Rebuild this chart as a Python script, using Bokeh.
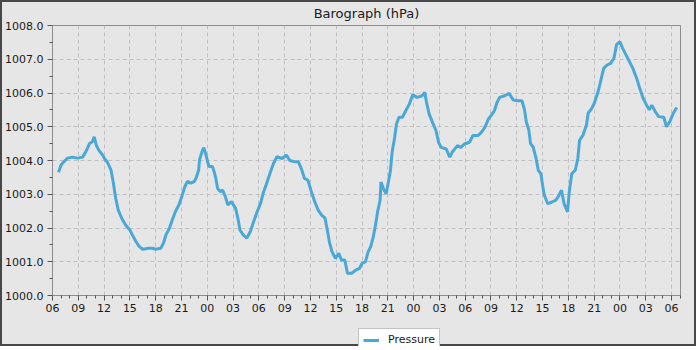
from bokeh.plotting import figure
from bokeh.layouts import column
from bokeh.models import FixedTicker, Legend, LegendItem, ColumnDataSource, Range1d
from bokeh.embed import file_html
from bokeh.resources import INLINE

# hours since 06:00 of the first day
hours = [0.7, 1.0, 1.35, 1.75, 2.3, 2.9, 3.5, 3.9, 4.3, 4.65, 4.85, 5.1, 5.4, 5.8, 6.1, 6.4, 6.8,
         7.05, 7.35, 7.65, 8.05, 8.5, 9.0, 9.3, 9.7, 10.1, 10.5, 11.2, 11.6, 12.0, 12.6, 12.9,
         13.2, 13.6, 14.0, 14.3, 14.7, 15.1, 15.4, 15.7, 16.1, 16.5, 16.7, 17.0, 17.1, 17.4,
         17.6, 17.9, 18.0, 18.2, 18.6, 18.8, 19.0, 19.2, 19.5, 19.8, 20.1, 20.4, 20.8, 21.3,
         21.6, 21.8, 22.2, 22.6, 23.0, 23.4, 23.8, 24.2, 24.5, 24.9, 25.3, 25.7, 26.1, 26.7,
         27.2, 27.6, 28.2, 28.6, 29.0, 29.3, 29.7, 30.1, 30.5, 30.9, 31.3, 31.7, 32.0, 32.2,
         32.5, 32.9, 33.3, 33.6, 34.0, 34.3, 34.8, 35.3, 35.7, 36.0, 36.4, 36.7, 37.0, 37.3,
         37.6, 37.8, 38.1, 38.2, 38.5, 38.8, 39.1, 39.3, 39.5, 39.8, 40.0, 40.3, 40.7, 41.1,
         41.5, 41.9, 42.4, 43.0, 43.3, 43.5, 43.8, 44.2, 44.6, 44.9, 45.2, 45.8, 46.2, 46.5,
         47.1, 47.5, 47.9, 48.5, 48.9, 49.5, 49.9, 50.3, 50.7, 51.0, 51.4, 51.7, 52.0, 52.6,
         53.1, 53.6, 54.2, 54.6, 54.9, 55.1, 55.4, 55.6, 55.9, 56.2, 56.5, 56.8, 57.0, 57.2,
         57.6, 58.1, 58.5, 58.8, 59.2, 59.5, 59.9, 60.1, 60.4, 60.8, 61.1, 61.3, 61.7, 62.1,
         62.3, 62.7, 63.0, 63.4, 63.7, 64.1, 64.5, 64.9, 65.3, 65.6, 66.0, 66.3, 66.7, 67.1,
         67.5, 68.0, 68.3, 68.7, 69.1, 69.4, 69.7, 70.1, 70.5, 71.1, 71.4, 71.8, 72.2, 72.6]

pressure = [1003.65, 1003.87, 1003.97, 1004.07, 1004.1, 1004.07, 1004.1, 1004.27, 1004.5, 1004.56,
            1004.7, 1004.45, 1004.3, 1004.17, 1004.04, 1003.94, 1003.72, 1003.38, 1002.88, 1002.53,
            1002.29, 1002.09, 1001.94, 1001.79, 1001.6, 1001.45, 1001.37, 1001.4, 1001.4, 1001.37,
            1001.4, 1001.55, 1001.8, 1001.99, 1002.29, 1002.49, 1002.68, 1002.98, 1003.23, 1003.38,
            1003.33, 1003.38, 1003.48, 1003.72, 1004.02, 1004.27, 1004.38, 1004.12, 1004.0, 1003.82,
            1003.82, 1003.67, 1003.47, 1003.17, 1003.08, 1003.12, 1002.93, 1002.68, 1002.78, 1002.58,
            1002.24, 1001.94, 1001.79, 1001.7, 1001.89, 1002.19, 1002.48, 1002.73, 1003.03, 1003.32,
            1003.62, 1003.91, 1004.11, 1004.06, 1004.16, 1004.0, 1003.96, 1003.96, 1003.72, 1003.47,
            1003.42, 1003.08, 1002.78, 1002.53, 1002.38, 1002.29, 1001.89, 1001.59, 1001.3, 1001.1,
            1001.25, 1001.05, 1001.05, 1000.66, 1000.66, 1000.76, 1000.8, 1000.95, 1001.0, 1001.29,
            1001.44, 1001.73, 1002.13, 1002.47, 1002.82, 1003.36, 1003.16, 1003.01, 1003.41, 1003.7,
            1004.25, 1004.69, 1005.08, 1005.28, 1005.28, 1005.48, 1005.67, 1005.95, 1005.87, 1005.92,
            1006.02, 1005.72, 1005.38, 1005.13, 1004.89, 1004.54, 1004.39, 1004.34, 1004.1, 1004.25,
            1004.44, 1004.39, 1004.49, 1004.54, 1004.74, 1004.74, 1004.84, 1004.99, 1005.23, 1005.33,
            1005.48, 1005.72, 1005.87, 1005.92, 1005.99, 1005.79, 1005.77, 1005.77, 1005.5, 1005.15,
            1004.9, 1004.5, 1004.4, 1004.11, 1003.71, 1003.61, 1003.27, 1002.97, 1002.72, 1002.77,
            1002.82, 1002.92, 1003.12, 1002.72, 1002.48, 1003.07, 1003.61, 1003.71, 1004.06, 1004.6,
            1004.75, 1005.05, 1005.4, 1005.54, 1005.69, 1005.99, 1006.29, 1006.73, 1006.83, 1006.88,
            1007.03, 1007.43, 1007.52, 1007.33, 1007.13, 1006.93, 1006.73, 1006.39, 1006.14, 1005.84,
            1005.64, 1005.5, 1005.64, 1005.45, 1005.3, 1005.28, 1005.0, 1005.15, 1005.4, 1005.57]

x_ticks = [0, 3, 6, 9, 12, 15, 18, 21, 24, 27, 30, 33, 36, 39, 42, 45, 48, 51, 54, 57, 60, 63, 66, 69, 72]
x_tick_labels = ["06", "09", "12", "15", "18", "21", "00", "03", "06", "09", "12", "15", "18",
                 "21", "00", "03", "06", "09", "12", "15", "18", "21", "00", "03", "06"]
x_minor = [h for h in range(0, 74) if h % 3 != 0]

y_ticks = [1000, 1001, 1002, 1003, 1004, 1005, 1006, 1007, 1008]
y_tick_labels = ["1000.0", "1001.0", "1002.0", "1003.0", "1004.0", "1005.0", "1006.0", "1007.0", "1008.0"]
y_minor = [1000.5, 1001.5, 1002.5, 1003.5, 1004.5, 1005.5, 1006.5, 1007.5]

series_name = "Pressure"

BG = "#e6e6e6"
LINE = "#4aa8d8"
EDGE = "2px solid #474747"
FONT = "DejaVu Sans"

# ---- main chart (top part of the picture) ----
p = figure(width=696, height=323, output_backend="svg", toolbar_location=None,
           x_range=Range1d(0, 73.04), y_range=Range1d(1000, 1008),
           min_border_left=48, min_border_right=18, min_border_top=23, min_border_bottom=30,
           background_fill_color=BG, border_fill_color=BG,
           outline_line_color="#8c8c8c", outline_line_width=1,
           styles={"border-left": EDGE, "border-right": EDGE, "border-top": EDGE,
                   "background-color": BG})

p.title.text = "Barograph (hPa)"
p.title.align = "center"
p.title.vertical_align = "top"
p.title.text_font = FONT
p.title.text_font_size = "13px"
p.title.text_font_style = "normal"
p.title.text_color = "#1a1a1a"
p.title.standoff = 5
if "padding" in p.title.properties():
    p.title.padding = 0

src = ColumnDataSource(dict(x=hours, y=pressure))
p.line("x", "y", source=src, line_color=LINE, line_width=3)

for ax in (p.xaxis[0], p.yaxis[0]):
    ax.axis_line_color = "#8c8c8c"
    ax.major_tick_line_color = "#555555"
    ax.minor_tick_line_color = "#555555"
    ax.major_tick_in = 0
    ax.minor_tick_in = 0
    ax.major_tick_out = 5
    ax.minor_tick_out = 3
    ax.major_label_text_font = FONT
    ax.major_label_text_font_size = "11px"
    ax.major_label_text_color = "#1a1a1a"

p.xaxis.ticker = FixedTicker(ticks=x_ticks, minor_ticks=x_minor)
p.xaxis.major_label_overrides = {t: l for t, l in zip(x_ticks, x_tick_labels)}
p.xaxis.major_label_standoff = 3
p.yaxis.ticker = FixedTicker(ticks=y_ticks, minor_ticks=y_minor)
p.yaxis.major_label_overrides = {t: l for t, l in zip(y_ticks, y_tick_labels)}
p.yaxis.major_label_standoff = 4

for g in (p.xgrid[0], p.ygrid[0]):
    g.grid_line_color = "#c0c0c0"
    g.grid_line_dash = "4 3"
    g.grid_line_width = 1

# ---- legend strip (bottom part of the picture) ----
q = figure(width=696, height=23, output_backend="svg", toolbar_location=None,
           x_range=Range1d(0, 1), y_range=Range1d(0, 1),
           x_axis_type=None, y_axis_type=None,
           min_border_left=0, min_border_right=0, min_border_top=0, min_border_bottom=0,
           background_fill_color=BG, border_fill_color=BG, outline_line_color=None,
           styles={"border-left": EDGE, "border-right": EDGE, "border-bottom": EDGE,
                   "background-color": BG})
# key line for the legend: its points lie outside the strip's visible range
key_src = ColumnDataSource(dict(x=[5, 6], y=[5, 6]))
key = q.line("x", "y", source=key_src, line_color=LINE, line_width=3)

legend = Legend(items=[LegendItem(label=series_name, renderers=[key])],
                location=(306, -5), orientation="horizontal",
                background_fill_color="white", background_fill_alpha=1.0,
                border_line_color="#888888", border_line_width=1,
                label_text_font=FONT, label_text_font_size="11px", label_text_color="#1a1a1a",
                glyph_width=16, glyph_height=12, label_height=12, label_standoff=9,
                padding=4, spacing=0, margin=0)
q.add_layout(legend)

page = column(p, q, spacing=0, styles={"background-color": BG})

open("out.html", "w").write(file_html(page, INLINE))
